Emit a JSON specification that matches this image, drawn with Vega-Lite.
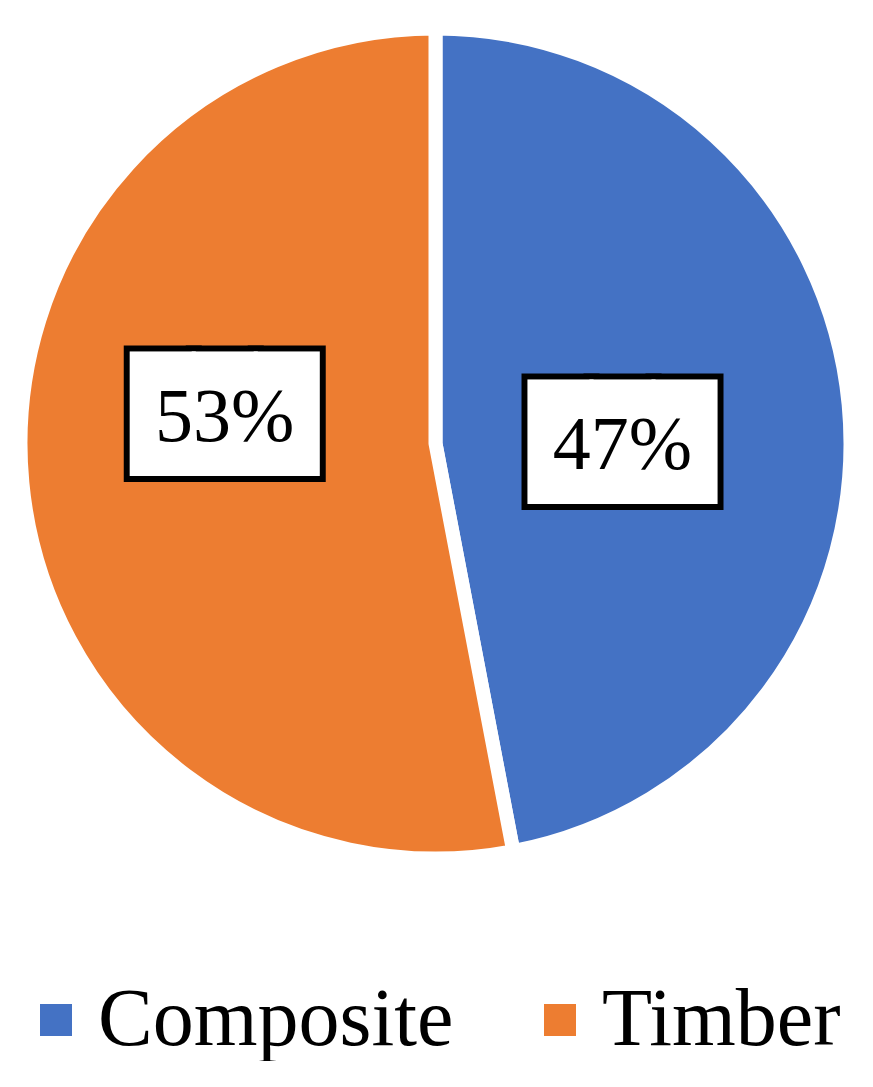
{
  "$schema": "https://vega.github.io/schema/vega-lite/v6.json",
  "width": 871,
  "height": 887,
  "padding": 0,
  "background": "white",
  "data": {"values": [
    {"type": "Composite", "share": 47, "label": "47%"},
    {"type": "Timber", "share": 53, "label": "53%"}
  ]},
  "encoding": {"theta": {"field": "share", "type": "quantitative", "stack": true}},
  "layer": [
    {
      "mark": {"type": "arc", "outerRadius": 415, "stroke": "white", "strokeWidth": 14, "strokeJoin": "bevel"},
      "encoding": {
        "color": {
          "field": "type", "type": "nominal",
          "scale": {"domain": ["Composite", "Timber"], "range": ["#4472C4", "#ED7D31"]},
          "legend": {
            "title": null, "orient": "none", "legendX": 15, "legendY": 979, "direction": "horizontal",
            "padding": 0,
            "symbolType": "square", "symbolSize": 1024, "symbolStrokeWidth": 0, "symbolOpacity": 1,
            "labelFont": "Liberation Serif", "labelFontSize": 82, "labelLimit": 0, "labelColor": "black",
            "labelOffset": 1, "columnPadding": 65
          }
        }
      }
    },
    {
      "mark": {"type": "text", "text": "███", "font": "DejaVu Sans Mono", "fontSize": 103, "dy": 5,
               "fill": "white", "stroke": "black", "strokeWidth": 14, "align": "center", "baseline": "middle"},
      "encoding": {
        "theta": {"field": "share", "type": "quantitative", "stack": true, "scale": {"range": [0.0075, 6.605]}},
        "radius": {"field": "share", "type": "quantitative", "scale": {"type": "linear", "zero": false, "domain": [47, 53], "range": [187, 213]}},
        "detail": {"field": "type", "type": "nominal"}
      }
    },
    {
      "mark": {"type": "text", "text": "███", "font": "DejaVu Sans Mono", "fontSize": 103, "dy": 5,
               "fill": "white", "stroke": "white", "strokeWidth": 2, "align": "center", "baseline": "middle"},
      "encoding": {
        "theta": {"field": "share", "type": "quantitative", "stack": true, "scale": {"range": [0.0075, 6.605]}},
        "radius": {"field": "share", "type": "quantitative", "scale": {"type": "linear", "zero": false, "domain": [47, 53], "range": [187, 213]}},
        "detail": {"field": "type", "type": "nominal"}
      }
    },
    {
      "mark": {"type": "text", "font": "Liberation Serif", "fontSize": 76, "dy": 5,
               "fill": "black", "align": "center", "baseline": "middle"},
      "encoding": {
        "theta": {"field": "share", "type": "quantitative", "stack": true, "scale": {"range": [0.0075, 6.605]}},
        "radius": {"field": "share", "type": "quantitative", "scale": {"type": "linear", "zero": false, "domain": [47, 53], "range": [187, 213]}},
        "text": {"field": "label", "type": "nominal"},
        "detail": {"field": "type", "type": "nominal"}
      }
    }
  ],
  "resolve": {"scale": {"theta": "independent", "radius": "independent"}},
  "config": {"view": {"stroke": null}}
}
